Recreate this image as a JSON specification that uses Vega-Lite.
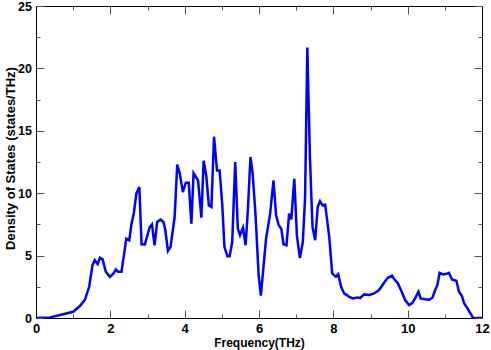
{
  "$schema": "https://vega.github.io/schema/vega-lite/v6.json",
  "autosize": "none",
  "width": 446,
  "height": 312,
  "padding": {"left": 36, "top": 6, "right": 9, "bottom": 32},
  "background": "white",
  "config": {
    "view": {"stroke": null},
    "font": "Liberation Sans"
  },
  "data": {"values": [
    {"f":0,"d":0},{"f":0.38,"d":0.05},{"f":0.73,"d":0.3},{"f":1.0,"d":0.5},{"f":1.18,"d":0.96},{"f":1.32,"d":1.49},{"f":1.43,"d":2.5},{"f":1.52,"d":4.23},{"f":1.58,"d":4.63},{"f":1.66,"d":4.31},{"f":1.72,"d":4.82},{"f":1.79,"d":4.71},{"f":1.88,"d":3.7},{"f":1.99,"d":3.3},{"f":2.08,"d":3.55},{"f":2.15,"d":3.89},{"f":2.21,"d":3.7},{"f":2.30,"d":3.7},{"f":2.43,"d":6.36},{"f":2.51,"d":6.23},{"f":2.57,"d":7.56},{"f":2.63,"d":8.36},{"f":2.70,"d":9.96},{"f":2.78,"d":10.49},{"f":2.84,"d":5.91},{"f":2.93,"d":5.9},{"f":3.06,"d":7.29},{"f":3.12,"d":7.5},{"f":3.19,"d":5.83},{"f":3.26,"d":7.7},{"f":3.35,"d":7.88},{"f":3.43,"d":7.7},{"f":3.48,"d":7.03},{"f":3.55,"d":5.38},{"f":3.62,"d":5.7},{"f":3.73,"d":8.09},{"f":3.80,"d":12.3},{"f":3.87,"d":11.56},{"f":3.95,"d":10.09},{"f":4.03,"d":10.84},{"f":4.11,"d":10.84},{"f":4.18,"d":7.56},{"f":4.24,"d":11.61},{"f":4.36,"d":11.02},{"f":4.45,"d":8.04},{"f":4.51,"d":12.6},{"f":4.58,"d":11.42},{"f":4.65,"d":9.03},{"f":4.72,"d":8.9},{"f":4.79,"d":14.54},{"f":4.87,"d":11.82},{"f":4.94,"d":11.82},{"f":5.01,"d":9.16},{"f":5.07,"d":5.7},{"f":5.15,"d":4.95},{"f":5.21,"d":4.95},{"f":5.28,"d":6.1},{"f":5.36,"d":12.49},{"f":5.43,"d":7.16},{"f":5.49,"d":6.63},{"f":5.57,"d":7.24},{"f":5.64,"d":5.83},{"f":5.70,"d":8.63},{"f":5.77,"d":12.9},{"f":5.83,"d":11.56},{"f":5.91,"d":8.09},{"f":5.99,"d":3.43},{"f":6.05,"d":1.8},{"f":6.19,"d":6.36},{"f":6.30,"d":8.36},{"f":6.39,"d":11.02},{"f":6.46,"d":8.23},{"f":6.53,"d":7.43},{"f":6.60,"d":7.16},{"f":6.66,"d":5.91},{"f":6.74,"d":5.83},{"f":6.81,"d":8.36},{"f":6.87,"d":7.9},{"f":6.95,"d":11.16},{"f":7.02,"d":6.6},{"f":7.10,"d":4.8},{"f":7.18,"d":6.1},{"f":7.24,"d":9.69},{"f":7.30,"d":21.67},{"f":7.37,"d":12.89},{"f":7.44,"d":7.3},{"f":7.51,"d":6.23},{"f":7.58,"d":8.9},{"f":7.64,"d":9.35},{"f":7.71,"d":9.03},{"f":7.78,"d":9.08},{"f":7.89,"d":6.5},{"f":7.97,"d":3.57},{"f":8.07,"d":3.3},{"f":8.13,"d":3.51},{"f":8.21,"d":2.5},{"f":8.29,"d":1.97},{"f":8.43,"d":1.7},{"f":8.52,"d":1.57},{"f":8.65,"d":1.65},{"f":8.72,"d":1.6},{"f":8.83,"d":1.89},{"f":8.97,"d":1.84},{"f":9.10,"d":1.97},{"f":9.23,"d":2.24},{"f":9.37,"d":2.85},{"f":9.46,"d":3.2},{"f":9.58,"d":3.4},{"f":9.64,"d":3.1},{"f":9.73,"d":2.8},{"f":9.84,"d":2.1},{"f":9.93,"d":1.44},{"f":10.04,"d":1.04},{"f":10.13,"d":1.22},{"f":10.22,"d":1.7},{"f":10.29,"d":2.1},{"f":10.35,"d":1.57},{"f":10.47,"d":1.5},{"f":10.58,"d":1.46},{"f":10.67,"d":1.65},{"f":10.74,"d":2.24},{"f":10.80,"d":2.64},{"f":10.86,"d":3.62},{"f":10.95,"d":3.49},{"f":11.02,"d":3.52},{"f":11.11,"d":3.62},{"f":11.19,"d":3.09},{"f":11.31,"d":2.98},{"f":11.38,"d":2.1},{"f":11.46,"d":1.76},{"f":11.52,"d":1.17},{"f":11.61,"d":0.77},{"f":11.70,"d":0.32},{"f":11.76,"d":0},{"f":12.0,"d":0}
  ]},
  "resolve": {"axis": {"x": "independent", "y": "independent"}},
  "layer": [
    {
      "mark": {"type": "line", "color": "#0000ff", "strokeWidth": 2.5, "clip": true},
      "encoding": {
        "x": {"field": "f", "type": "quantitative",
          "scale": {"domain": [0, 12], "nice": false, "zero": false},
          "axis": {"orient": "bottom", "title": "Frequency(THz)",
            "values": [0,1,2,3,4,5,6,7,8,9,10,11,12],
            "labelExpr": "datum.value % 2 == 0 ? datum.label : ''",
            "tickSize": {"condition": {"test": "datum.value % 2 != 0", "value": -4}, "value": -8},
            "tickColor": "#555", "domainColor": "black", "grid": false,
            "labelFont": "Liberation Sans", "labelFontWeight": "bold", "labelFontSize": 13, "labelColor": "black",
            "labelPadding": 12, "labelFlush": false, "labelOverlap": false,
            "titleFont": "Liberation Sans", "titleFontWeight": "bold", "titleFontSize": 12, "titleColor": "black", "titlePadding": -2}},
        "y": {"field": "d", "type": "quantitative",
          "scale": {"domain": [0, 25], "nice": false},
          "axis": {"orient": "left", "title": "Density of States (states/THz)",
            "values": [0,2.5,5,7.5,10,12.5,15,17.5,20,22.5,25],
            "labelExpr": "datum.value % 5 == 0 ? datum.label : ''",
            "tickSize": {"condition": {"test": "datum.value % 5 != 0", "value": -4}, "value": -8},
            "tickColor": "#555", "domainColor": "black", "grid": false,
            "labelFont": "Liberation Sans", "labelFontWeight": "bold", "labelFontSize": 12.5, "labelColor": "black",
            "labelPadding": 12.5, "labelFlush": false, "labelOverlap": false,
            "titleFont": "Liberation Sans", "titleFontWeight": "bold", "titleFontSize": 13, "titleColor": "black", "titlePadding": 0, "titleY": 152}}
      }
    },
    {
      "mark": {"type": "line", "opacity": 0},
      "encoding": {
        "x": {"field": "f", "type": "quantitative",
          "axis": {"orient": "top", "title": null, "labels": false,
            "values": [0,1,2,3,4,5,6,7,8,9,10,11,12],
            "tickSize": {"condition": {"test": "datum.value % 2 != 0", "value": -4}, "value": -8},
            "tickColor": "#555", "domainColor": "black", "grid": false}},
        "y": {"field": "d", "type": "quantitative",
          "axis": {"orient": "right", "title": null, "labels": false,
            "values": [0,2.5,5,7.5,10,12.5,15,17.5,20,22.5,25],
            "tickSize": {"condition": {"test": "datum.value % 5 != 0", "value": -4}, "value": -8},
            "tickColor": "#555", "domainColor": "black", "grid": false}}
      }
    }
  ]
}
